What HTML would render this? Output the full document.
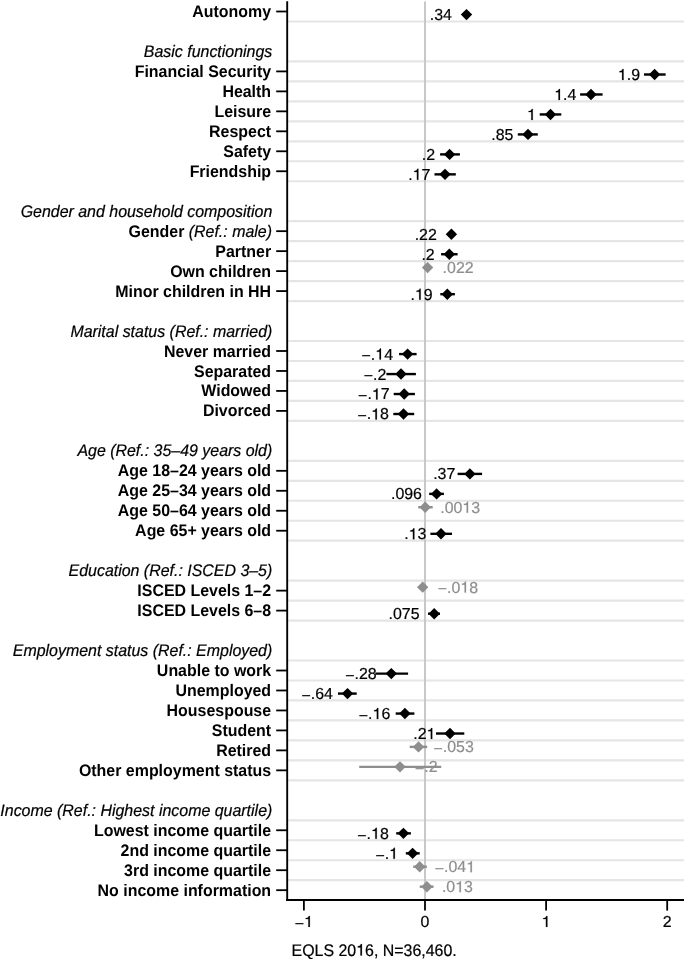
<!DOCTYPE html>
<html><head><meta charset="utf-8"><style>
html,body{margin:0;padding:0;background:#fff;}
svg{display:block;will-change:transform;}
text{text-rendering:geometricPrecision;stroke:#000;stroke-width:0.2px;font-family:"Liberation Sans",sans-serif;font-size:15.95px;}
.b{font-weight:bold;stroke-width:0;}
.i{font-style:italic;}
.h{fill-opacity:0;stroke-opacity:0;}
</style></head><body>
<svg width="685" height="959" viewBox="0 0 685 959">
<rect width="685" height="959" fill="#fff"/>

<line x1="288.2" y1="21.48" x2="684.0" y2="21.48" stroke="#e5e5e5" stroke-width="2.2"/>
<line x1="288.2" y1="61.42" x2="684.0" y2="61.42" stroke="#e5e5e5" stroke-width="2.2"/>
<line x1="288.2" y1="81.39" x2="684.0" y2="81.39" stroke="#e5e5e5" stroke-width="2.2"/>
<line x1="288.2" y1="101.36" x2="684.0" y2="101.36" stroke="#e5e5e5" stroke-width="2.2"/>
<line x1="288.2" y1="121.33" x2="684.0" y2="121.33" stroke="#e5e5e5" stroke-width="2.2"/>
<line x1="288.2" y1="141.31" x2="684.0" y2="141.31" stroke="#e5e5e5" stroke-width="2.2"/>
<line x1="288.2" y1="161.27" x2="684.0" y2="161.27" stroke="#e5e5e5" stroke-width="2.2"/>
<line x1="288.2" y1="181.25" x2="684.0" y2="181.25" stroke="#e5e5e5" stroke-width="2.2"/>
<line x1="288.2" y1="221.19" x2="684.0" y2="221.19" stroke="#e5e5e5" stroke-width="2.2"/>
<line x1="288.2" y1="241.15" x2="684.0" y2="241.15" stroke="#e5e5e5" stroke-width="2.2"/>
<line x1="288.2" y1="261.12" x2="684.0" y2="261.12" stroke="#e5e5e5" stroke-width="2.2"/>
<line x1="288.2" y1="281.10" x2="684.0" y2="281.10" stroke="#e5e5e5" stroke-width="2.2"/>
<line x1="288.2" y1="301.06" x2="684.0" y2="301.06" stroke="#e5e5e5" stroke-width="2.2"/>
<line x1="288.2" y1="341.00" x2="684.0" y2="341.00" stroke="#e5e5e5" stroke-width="2.2"/>
<line x1="288.2" y1="360.98" x2="684.0" y2="360.98" stroke="#e5e5e5" stroke-width="2.2"/>
<line x1="288.2" y1="380.94" x2="684.0" y2="380.94" stroke="#e5e5e5" stroke-width="2.2"/>
<line x1="288.2" y1="400.91" x2="684.0" y2="400.91" stroke="#e5e5e5" stroke-width="2.2"/>
<line x1="288.2" y1="420.88" x2="684.0" y2="420.88" stroke="#e5e5e5" stroke-width="2.2"/>
<line x1="288.2" y1="460.82" x2="684.0" y2="460.82" stroke="#e5e5e5" stroke-width="2.2"/>
<line x1="288.2" y1="480.79" x2="684.0" y2="480.79" stroke="#e5e5e5" stroke-width="2.2"/>
<line x1="288.2" y1="500.76" x2="684.0" y2="500.76" stroke="#e5e5e5" stroke-width="2.2"/>
<line x1="288.2" y1="520.74" x2="684.0" y2="520.74" stroke="#e5e5e5" stroke-width="2.2"/>
<line x1="288.2" y1="540.71" x2="684.0" y2="540.71" stroke="#e5e5e5" stroke-width="2.2"/>
<line x1="288.2" y1="580.64" x2="684.0" y2="580.64" stroke="#e5e5e5" stroke-width="2.2"/>
<line x1="288.2" y1="600.62" x2="684.0" y2="600.62" stroke="#e5e5e5" stroke-width="2.2"/>
<line x1="288.2" y1="620.58" x2="684.0" y2="620.58" stroke="#e5e5e5" stroke-width="2.2"/>
<line x1="288.2" y1="660.52" x2="684.0" y2="660.52" stroke="#e5e5e5" stroke-width="2.2"/>
<line x1="288.2" y1="680.50" x2="684.0" y2="680.50" stroke="#e5e5e5" stroke-width="2.2"/>
<line x1="288.2" y1="700.47" x2="684.0" y2="700.47" stroke="#e5e5e5" stroke-width="2.2"/>
<line x1="288.2" y1="720.43" x2="684.0" y2="720.43" stroke="#e5e5e5" stroke-width="2.2"/>
<line x1="288.2" y1="740.40" x2="684.0" y2="740.40" stroke="#e5e5e5" stroke-width="2.2"/>
<line x1="288.2" y1="760.38" x2="684.0" y2="760.38" stroke="#e5e5e5" stroke-width="2.2"/>
<line x1="288.2" y1="780.34" x2="684.0" y2="780.34" stroke="#e5e5e5" stroke-width="2.2"/>
<line x1="288.2" y1="820.28" x2="684.0" y2="820.28" stroke="#e5e5e5" stroke-width="2.2"/>
<line x1="288.2" y1="840.25" x2="684.0" y2="840.25" stroke="#e5e5e5" stroke-width="2.2"/>
<line x1="288.2" y1="860.23" x2="684.0" y2="860.23" stroke="#e5e5e5" stroke-width="2.2"/>
<line x1="288.2" y1="880.19" x2="684.0" y2="880.19" stroke="#e5e5e5" stroke-width="2.2"/>
<line x1="425.0" y1="1.5" x2="425.0" y2="898.9" stroke="#c6c6c6" stroke-width="1.9"/>
<line x1="276.2" y1="11.50" x2="287.2" y2="11.50" stroke="#000" stroke-width="1.8"/>
<text transform="translate(271.1 17.05) scale(1 1.05)" text-anchor="end" class="b">Autonomy</text>
<text transform="translate(272.3 56.99) scale(1 1.05)" text-anchor="end" class="i">Basic functionings</text>
<line x1="276.2" y1="71.41" x2="287.2" y2="71.41" stroke="#000" stroke-width="1.8"/>
<text transform="translate(271.1 76.96) scale(1 1.05)" text-anchor="end" class="b">Financial Security</text>
<line x1="276.2" y1="91.38" x2="287.2" y2="91.38" stroke="#000" stroke-width="1.8"/>
<text transform="translate(271.1 96.93) scale(1 1.05)" text-anchor="end" class="b">Health</text>
<line x1="276.2" y1="111.35" x2="287.2" y2="111.35" stroke="#000" stroke-width="1.8"/>
<text transform="translate(271.1 116.90) scale(1 1.05)" text-anchor="end" class="b">Leisure</text>
<line x1="276.2" y1="131.32" x2="287.2" y2="131.32" stroke="#000" stroke-width="1.8"/>
<text transform="translate(271.1 136.87) scale(1 1.05)" text-anchor="end" class="b">Respect</text>
<line x1="276.2" y1="151.29" x2="287.2" y2="151.29" stroke="#000" stroke-width="1.8"/>
<text transform="translate(271.1 156.84) scale(1 1.05)" text-anchor="end" class="b">Safety</text>
<line x1="276.2" y1="171.26" x2="287.2" y2="171.26" stroke="#000" stroke-width="1.8"/>
<text transform="translate(271.1 176.81) scale(1 1.05)" text-anchor="end" class="b">Friendship</text>
<text transform="translate(272.3 216.75) scale(1 1.05)" text-anchor="end" class="i">Gender and household composition</text>
<line x1="276.2" y1="231.17" x2="287.2" y2="231.17" stroke="#000" stroke-width="1.8"/>
<text transform="translate(272.0 236.72) scale(1 1.05)" text-anchor="end"><tspan class="b">Gender</tspan><tspan class="i"> (Ref.: male)</tspan></text>
<line x1="276.2" y1="251.14" x2="287.2" y2="251.14" stroke="#000" stroke-width="1.8"/>
<text transform="translate(271.1 256.69) scale(1 1.05)" text-anchor="end" class="b">Partner</text>
<line x1="276.2" y1="271.11" x2="287.2" y2="271.11" stroke="#000" stroke-width="1.8"/>
<text transform="translate(271.1 276.66) scale(1 1.05)" text-anchor="end" class="b">Own children</text>
<line x1="276.2" y1="291.08" x2="287.2" y2="291.08" stroke="#000" stroke-width="1.8"/>
<text transform="translate(271.1 296.63) scale(1 1.05)" text-anchor="end" class="b">Minor children in HH</text>
<text transform="translate(272.3 336.57) scale(1 1.05)" text-anchor="end" class="i">Marital status (Ref.: married)</text>
<line x1="276.2" y1="350.99" x2="287.2" y2="350.99" stroke="#000" stroke-width="1.8"/>
<text transform="translate(271.1 356.54) scale(1 1.05)" text-anchor="end" class="b">Never married</text>
<line x1="276.2" y1="370.96" x2="287.2" y2="370.96" stroke="#000" stroke-width="1.8"/>
<text transform="translate(271.1 376.51) scale(1 1.05)" text-anchor="end" class="b">Separated</text>
<line x1="276.2" y1="390.93" x2="287.2" y2="390.93" stroke="#000" stroke-width="1.8"/>
<text transform="translate(271.1 396.48) scale(1 1.05)" text-anchor="end" class="b">Widowed</text>
<line x1="276.2" y1="410.90" x2="287.2" y2="410.90" stroke="#000" stroke-width="1.8"/>
<text transform="translate(271.1 416.45) scale(1 1.05)" text-anchor="end" class="b">Divorced</text>
<text transform="translate(272.3 456.39) scale(1 1.05)" text-anchor="end" class="i">Age (Ref.: 35–49 years old)</text>
<line x1="276.2" y1="470.81" x2="287.2" y2="470.81" stroke="#000" stroke-width="1.8"/>
<text transform="translate(271.1 476.36) scale(1 1.05)" text-anchor="end" class="b">Age 18–24 years old</text>
<line x1="276.2" y1="490.78" x2="287.2" y2="490.78" stroke="#000" stroke-width="1.8"/>
<text transform="translate(271.1 496.33) scale(1 1.05)" text-anchor="end" class="b">Age 25–34 years old</text>
<line x1="276.2" y1="510.75" x2="287.2" y2="510.75" stroke="#000" stroke-width="1.8"/>
<text transform="translate(271.1 516.30) scale(1 1.05)" text-anchor="end" class="b">Age 50–64 years old</text>
<line x1="276.2" y1="530.72" x2="287.2" y2="530.72" stroke="#000" stroke-width="1.8"/>
<text transform="translate(271.1 536.27) scale(1 1.05)" text-anchor="end" class="b">Age 65+ years old</text>
<text transform="translate(272.3 576.21) scale(1 1.05)" text-anchor="end" class="i">Education (Ref.: ISCED 3–5)</text>
<line x1="276.2" y1="590.63" x2="287.2" y2="590.63" stroke="#000" stroke-width="1.8"/>
<text transform="translate(271.1 596.18) scale(1 1.05)" text-anchor="end" class="b">ISCED Levels 1–2</text>
<line x1="276.2" y1="610.60" x2="287.2" y2="610.60" stroke="#000" stroke-width="1.8"/>
<text transform="translate(271.1 616.15) scale(1 1.05)" text-anchor="end" class="b">ISCED Levels 6–8</text>
<text transform="translate(272.3 656.09) scale(1 1.05)" text-anchor="end" class="i">Employment status (Ref.: Employed)</text>
<line x1="276.2" y1="670.51" x2="287.2" y2="670.51" stroke="#000" stroke-width="1.8"/>
<text transform="translate(271.1 676.06) scale(1 1.05)" text-anchor="end" class="b">Unable to work</text>
<line x1="276.2" y1="690.48" x2="287.2" y2="690.48" stroke="#000" stroke-width="1.8"/>
<text transform="translate(271.1 696.03) scale(1 1.05)" text-anchor="end" class="b">Unemployed</text>
<line x1="276.2" y1="710.45" x2="287.2" y2="710.45" stroke="#000" stroke-width="1.8"/>
<text transform="translate(271.1 716.00) scale(1 1.05)" text-anchor="end" class="b">Housespouse</text>
<line x1="276.2" y1="730.42" x2="287.2" y2="730.42" stroke="#000" stroke-width="1.8"/>
<text transform="translate(271.1 735.97) scale(1 1.05)" text-anchor="end" class="b">Student</text>
<line x1="276.2" y1="750.39" x2="287.2" y2="750.39" stroke="#000" stroke-width="1.8"/>
<text transform="translate(271.1 755.94) scale(1 1.05)" text-anchor="end" class="b">Retired</text>
<line x1="276.2" y1="770.36" x2="287.2" y2="770.36" stroke="#000" stroke-width="1.8"/>
<text transform="translate(271.1 775.91) scale(1 1.05)" text-anchor="end" class="b">Other employment status</text>
<text transform="translate(272.3 815.85) scale(1 1.05)" text-anchor="end" class="i">Income (Ref.: Highest income quartile)</text>
<line x1="276.2" y1="830.27" x2="287.2" y2="830.27" stroke="#000" stroke-width="1.8"/>
<text transform="translate(271.1 835.82) scale(1 1.05)" text-anchor="end" class="b">Lowest income quartile</text>
<line x1="276.2" y1="850.24" x2="287.2" y2="850.24" stroke="#000" stroke-width="1.8"/>
<text transform="translate(271.1 855.79) scale(1 1.05)" text-anchor="end" class="b">2nd income quartile</text>
<line x1="276.2" y1="870.21" x2="287.2" y2="870.21" stroke="#000" stroke-width="1.8"/>
<text transform="translate(271.1 875.76) scale(1 1.05)" text-anchor="end" class="b">3rd income quartile</text>
<line x1="276.2" y1="890.18" x2="287.2" y2="890.18" stroke="#000" stroke-width="1.8"/>
<text transform="translate(271.1 895.73) scale(1 1.05)" text-anchor="end" class="b">No income information</text>
<path d="M466.5 8.90L472.2 14.60L466.5 20.30L460.8 14.60Z" fill="#000"/>
<g transform="translate(451.90 20.05) scale(1 1.0)"><text id="n1" text-anchor="end">.34</text></g>
<line x1="644.0" y1="74.51" x2="665.6" y2="74.51" stroke="#000" stroke-width="2.4"/>
<path d="M654.6 68.81L660.3000000000001 74.51L654.6 80.21L648.9 74.51Z" fill="#000"/>
<g transform="translate(640.00 79.96) scale(1 1.0)"><text id="n2" text-anchor="end"><tspan class="h">1</tspan>.9</text><path transform="translate(-22.172 0) scale(0.007788 -0.007788)" d="M736 0V1409H610Q580 1260 450 1190Q350 1140 205 1130V1000H546V0Z" fill="#000" stroke="#000" stroke-width="25.7"/></g>
<line x1="580.1" y1="94.48" x2="602.6" y2="94.48" stroke="#000" stroke-width="2.4"/>
<path d="M591.0 88.78L596.7 94.48L591.0 100.18L585.3 94.48Z" fill="#000"/>
<g transform="translate(576.40 99.93) scale(1 1.0)"><text id="n3" text-anchor="end"><tspan class="h">1</tspan>.4</text><path transform="translate(-22.172 0) scale(0.007788 -0.007788)" d="M736 0V1409H610Q580 1260 450 1190Q350 1140 205 1130V1000H546V0Z" fill="#000" stroke="#000" stroke-width="25.7"/></g>
<line x1="539.7" y1="114.45" x2="561.3" y2="114.45" stroke="#000" stroke-width="2.4"/>
<path d="M550.5 108.75L556.2 114.45L550.5 120.15L544.8 114.45Z" fill="#000"/>
<g transform="translate(535.90 119.90) scale(1 1.0)"><text id="n4" text-anchor="end"><tspan class="h">1</tspan></text><path transform="translate(-8.875 0) scale(0.007788 -0.007788)" d="M736 0V1409H610Q580 1260 450 1190Q350 1140 205 1130V1000H546V0Z" fill="#000" stroke="#000" stroke-width="25.7"/></g>
<line x1="517.8" y1="134.42" x2="537.8" y2="134.42" stroke="#000" stroke-width="2.4"/>
<path d="M528.0 128.72L533.7 134.42L528.0 140.12L522.3 134.42Z" fill="#000"/>
<g transform="translate(513.40 139.87) scale(1 1.0)"><text id="n5" text-anchor="end">.85</text></g>
<line x1="440.1" y1="154.39" x2="459.9" y2="154.39" stroke="#000" stroke-width="2.4"/>
<path d="M449.6 148.69L455.3 154.39L449.6 160.09L443.90000000000003 154.39Z" fill="#000"/>
<g transform="translate(435.00 159.84) scale(1 1.0)"><text id="n6" text-anchor="end">.2</text></g>
<line x1="434.5" y1="174.36" x2="455.8" y2="174.36" stroke="#000" stroke-width="2.4"/>
<path d="M445.0 168.66L450.7 174.36L445.0 180.06L439.3 174.36Z" fill="#000"/>
<g transform="translate(430.40 179.81) scale(1 1.0)"><text id="n7" text-anchor="end">.<tspan class="h">1</tspan>7</text><path transform="translate(-17.750 0) scale(0.007788 -0.007788)" d="M736 0V1409H610Q580 1260 450 1190Q350 1140 205 1130V1000H546V0Z" fill="#000" stroke="#000" stroke-width="25.7"/></g>
<path d="M451.4 228.57L457.09999999999997 234.27L451.4 239.97L445.7 234.27Z" fill="#000"/>
<g transform="translate(436.80 239.72) scale(1 1.0)"><text id="n8" text-anchor="end">.22</text></g>
<line x1="441.1" y1="254.24" x2="457.6" y2="254.24" stroke="#000" stroke-width="2.4"/>
<path d="M449.3 248.54L455.0 254.24L449.3 259.94L443.6 254.24Z" fill="#000"/>
<g transform="translate(434.70 259.69) scale(1 1.0)"><text id="n9" text-anchor="end">.2</text></g>
<path d="M427.6 261.91L433.3 267.61L427.6 273.31L421.90000000000003 267.61Z" fill="#8e8e8e"/>
<g transform="translate(442.60 273.06) scale(1 1.0)"><text id="n10" fill="#8e8e8e" style="stroke:#8e8e8e">.022</text></g>
<line x1="440.3" y1="294.18" x2="454.9" y2="294.18" stroke="#000" stroke-width="2.4"/>
<path d="M447.3 288.48L453.0 294.18L447.3 299.88L441.6 294.18Z" fill="#000"/>
<g transform="translate(432.70 299.63) scale(1 1.0)"><text id="n11" text-anchor="end">.<tspan class="h">1</tspan>9</text><path transform="translate(-17.750 0) scale(0.007788 -0.007788)" d="M736 0V1409H610Q580 1260 450 1190Q350 1140 205 1130V1000H546V0Z" fill="#000" stroke="#000" stroke-width="25.7"/></g>
<line x1="399.1" y1="354.09" x2="416.6" y2="354.09" stroke="#000" stroke-width="2.4"/>
<path d="M407.6 348.39L413.3 354.09L407.6 359.79L401.90000000000003 354.09Z" fill="#000"/>
<g transform="translate(393.00 359.54) scale(1 1.0)"><text id="n12" text-anchor="end"><tspan dy="1.8">−</tspan><tspan dy="-1.8">.<tspan class="h">1</tspan>4</tspan></text><path transform="translate(-17.750 0) scale(0.007788 -0.007788)" d="M736 0V1409H610Q580 1260 450 1190Q350 1140 205 1130V1000H546V0Z" fill="#000" stroke="#000" stroke-width="25.7"/></g>
<line x1="386.4" y1="374.06" x2="415.9" y2="374.06" stroke="#000" stroke-width="2.4"/>
<path d="M401.0 368.36L406.7 374.06L401.0 379.76L395.3 374.06Z" fill="#000"/>
<g transform="translate(386.40 379.51) scale(1 1.0)"><text id="n13" text-anchor="end"><tspan dy="1.8">−</tspan><tspan dy="-1.8">.2</tspan></text></g>
<line x1="393.7" y1="394.03" x2="414.9" y2="394.03" stroke="#000" stroke-width="2.4"/>
<path d="M404.2 388.33L409.9 394.03L404.2 399.73L398.5 394.03Z" fill="#000"/>
<g transform="translate(389.60 399.48) scale(1 1.0)"><text id="n14" text-anchor="end"><tspan dy="1.8">−</tspan><tspan dy="-1.8">.<tspan class="h">1</tspan>7</tspan></text><path transform="translate(-17.750 0) scale(0.007788 -0.007788)" d="M736 0V1409H610Q580 1260 450 1190Q350 1140 205 1130V1000H546V0Z" fill="#000" stroke="#000" stroke-width="25.7"/></g>
<line x1="393.3" y1="414.00" x2="414.2" y2="414.00" stroke="#000" stroke-width="2.4"/>
<path d="M403.5 408.30L409.2 414.00L403.5 419.70L397.8 414.00Z" fill="#000"/>
<g transform="translate(388.90 419.45) scale(1 1.0)"><text id="n15" text-anchor="end"><tspan dy="1.8">−</tspan><tspan dy="-1.8">.<tspan class="h">1</tspan>8</tspan></text><path transform="translate(-17.750 0) scale(0.007788 -0.007788)" d="M736 0V1409H610Q580 1260 450 1190Q350 1140 205 1130V1000H546V0Z" fill="#000" stroke="#000" stroke-width="25.7"/></g>
<line x1="457.6" y1="473.91" x2="482.1" y2="473.91" stroke="#000" stroke-width="2.4"/>
<path d="M469.9 468.21L475.59999999999997 473.91L469.9 479.61L464.2 473.91Z" fill="#000"/>
<g transform="translate(455.30 479.36) scale(1 1.0)"><text id="n16" text-anchor="end">.37</text></g>
<line x1="429.2" y1="493.88" x2="443.9" y2="493.88" stroke="#000" stroke-width="2.4"/>
<path d="M436.6 488.18L442.3 493.88L436.6 499.58L430.90000000000003 493.88Z" fill="#000"/>
<g transform="translate(422.00 499.33) scale(1 1.0)"><text id="n17" text-anchor="end">.096</text></g>
<line x1="418.2" y1="507.25" x2="432.7" y2="507.25" stroke="#8e8e8e" stroke-width="2.4"/>
<path d="M425.2 501.55L430.9 507.25L425.2 512.95L419.5 507.25Z" fill="#8e8e8e"/>
<g transform="translate(440.20 512.70) scale(1 1.0)"><text id="n18" fill="#8e8e8e" style="stroke:#8e8e8e">.00<tspan class="h">1</tspan>3</text><path transform="translate(22.156 0) scale(0.007788 -0.007788)" d="M736 0V1409H610Q580 1260 450 1190Q350 1140 205 1130V1000H546V0Z" fill="#8e8e8e" stroke="#8e8e8e" stroke-width="25.7"/></g>
<line x1="430.4" y1="533.82" x2="452.0" y2="533.82" stroke="#000" stroke-width="2.4"/>
<path d="M441.0 528.12L446.7 533.82L441.0 539.52L435.3 533.82Z" fill="#000"/>
<g transform="translate(426.40 539.27) scale(1 1.0)"><text id="n19" text-anchor="end">.<tspan class="h">1</tspan>3</text><path transform="translate(-17.750 0) scale(0.007788 -0.007788)" d="M736 0V1409H610Q580 1260 450 1190Q350 1140 205 1130V1000H546V0Z" fill="#000" stroke="#000" stroke-width="25.7"/></g>
<path d="M422.7 581.43L428.4 587.13L422.7 592.83L417.0 587.13Z" fill="#8e8e8e"/>
<g transform="translate(437.70 592.58) scale(1 1.0)"><text id="n20" fill="#8e8e8e" style="stroke:#8e8e8e"><tspan dy="1.8">−</tspan><tspan dy="-1.8">.0<tspan class="h">1</tspan>8</tspan></text><path transform="translate(22.609 0) scale(0.007788 -0.007788)" d="M736 0V1409H610Q580 1260 450 1190Q350 1140 205 1130V1000H546V0Z" fill="#8e8e8e" stroke="#8e8e8e" stroke-width="25.7"/></g>
<line x1="428.0" y1="613.70" x2="440.0" y2="613.70" stroke="#000" stroke-width="2.4"/>
<path d="M434.2 608.00L439.9 613.70L434.2 619.40L428.5 613.70Z" fill="#000"/>
<g transform="translate(419.60 619.15) scale(1 1.0)"><text id="n21" text-anchor="end">.075</text></g>
<line x1="375.3" y1="673.61" x2="408.1" y2="673.61" stroke="#000" stroke-width="2.4"/>
<path d="M391.3 667.91L397.0 673.61L391.3 679.31L385.6 673.61Z" fill="#000"/>
<g transform="translate(376.70 679.06) scale(1 1.0)"><text id="n22" text-anchor="end"><tspan dy="1.8">−</tspan><tspan dy="-1.8">.28</tspan></text></g>
<line x1="338.0" y1="693.58" x2="356.7" y2="693.58" stroke="#000" stroke-width="2.4"/>
<path d="M347.5 687.88L353.2 693.58L347.5 699.28L341.8 693.58Z" fill="#000"/>
<g transform="translate(332.90 699.03) scale(1 1.0)"><text id="n23" text-anchor="end"><tspan dy="1.8">−</tspan><tspan dy="-1.8">.64</tspan></text></g>
<line x1="395.7" y1="713.55" x2="414.4" y2="713.55" stroke="#000" stroke-width="2.4"/>
<path d="M404.9 707.85L410.59999999999997 713.55L404.9 719.25L399.2 713.55Z" fill="#000"/>
<g transform="translate(390.30 719.00) scale(1 1.0)"><text id="n24" text-anchor="end"><tspan dy="1.8">−</tspan><tspan dy="-1.8">.<tspan class="h">1</tspan>6</tspan></text><path transform="translate(-17.750 0) scale(0.007788 -0.007788)" d="M736 0V1409H610Q580 1260 450 1190Q350 1140 205 1130V1000H546V0Z" fill="#000" stroke="#000" stroke-width="25.7"/></g>
<line x1="436.0" y1="733.52" x2="464.3" y2="733.52" stroke="#000" stroke-width="2.4"/>
<path d="M450.0 727.82L455.7 733.52L450.0 739.22L444.3 733.52Z" fill="#000"/>
<g transform="translate(435.40 738.97) scale(1 1.0)"><text id="n25" text-anchor="end">.2<tspan class="h">1</tspan></text><path transform="translate(-8.875 0) scale(0.007788 -0.007788)" d="M736 0V1409H610Q580 1260 450 1190Q350 1140 205 1130V1000H546V0Z" fill="#000" stroke="#000" stroke-width="25.7"/></g>
<line x1="409.7" y1="746.89" x2="427.2" y2="746.89" stroke="#8e8e8e" stroke-width="2.4"/>
<path d="M418.5 741.19L424.2 746.89L418.5 752.59L412.8 746.89Z" fill="#8e8e8e"/>
<g transform="translate(433.50 752.34) scale(1 1.0)"><text id="n26" fill="#8e8e8e" style="stroke:#8e8e8e"><tspan dy="1.8">−</tspan><tspan dy="-1.8">.053</tspan></text></g>
<line x1="359.2" y1="766.86" x2="441.2" y2="766.86" stroke="#8e8e8e" stroke-width="2.4"/>
<path d="M400.0 761.16L405.7 766.86L400.0 772.56L394.3 766.86Z" fill="#8e8e8e"/>
<g transform="translate(415.00 772.31) scale(1 1.0)"><text id="n27" fill="#8e8e8e" style="stroke:#8e8e8e"><tspan dy="1.8">−</tspan><tspan dy="-1.8">.2</tspan></text></g>
<line x1="396.2" y1="833.37" x2="410.9" y2="833.37" stroke="#000" stroke-width="2.4"/>
<path d="M403.4 827.67L409.09999999999997 833.37L403.4 839.07L397.7 833.37Z" fill="#000"/>
<g transform="translate(388.80 838.82) scale(1 1.0)"><text id="n28" text-anchor="end"><tspan dy="1.8">−</tspan><tspan dy="-1.8">.<tspan class="h">1</tspan>8</tspan></text><path transform="translate(-17.750 0) scale(0.007788 -0.007788)" d="M736 0V1409H610Q580 1260 450 1190Q350 1140 205 1130V1000H546V0Z" fill="#000" stroke="#000" stroke-width="25.7"/></g>
<line x1="405.8" y1="853.34" x2="419.7" y2="853.34" stroke="#000" stroke-width="2.4"/>
<path d="M412.6 847.64L418.3 853.34L412.6 859.04L406.90000000000003 853.34Z" fill="#000"/>
<g transform="translate(398.00 858.79) scale(1 1.0)"><text id="n29" text-anchor="end"><tspan dy="1.8">−</tspan><tspan dy="-1.8">.<tspan class="h">1</tspan></tspan></text><path transform="translate(-8.875 0) scale(0.007788 -0.007788)" d="M736 0V1409H610Q580 1260 450 1190Q350 1140 205 1130V1000H546V0Z" fill="#000" stroke="#000" stroke-width="25.7"/></g>
<line x1="413.2" y1="866.71" x2="426.9" y2="866.71" stroke="#8e8e8e" stroke-width="2.4"/>
<path d="M419.7 861.01L425.4 866.71L419.7 872.41L414.0 866.71Z" fill="#8e8e8e"/>
<g transform="translate(434.70 872.16) scale(1 1.0)"><text id="n30" fill="#8e8e8e" style="stroke:#8e8e8e"><tspan dy="1.8">−</tspan><tspan dy="-1.8">.04<tspan class="h">1</tspan></tspan></text><path transform="translate(31.469 0) scale(0.007788 -0.007788)" d="M736 0V1409H610Q580 1260 450 1190Q350 1140 205 1130V1000H546V0Z" fill="#8e8e8e" stroke="#8e8e8e" stroke-width="25.7"/></g>
<line x1="419.7" y1="886.68" x2="433.6" y2="886.68" stroke="#8e8e8e" stroke-width="2.4"/>
<path d="M426.9 880.98L432.59999999999997 886.68L426.9 892.38L421.2 886.68Z" fill="#8e8e8e"/>
<g transform="translate(441.90 892.13) scale(1 1.0)"><text id="n31" fill="#8e8e8e" style="stroke:#8e8e8e">.0<tspan class="h">1</tspan>3</text><path transform="translate(13.297 0) scale(0.007788 -0.007788)" d="M736 0V1409H610Q580 1260 450 1190Q350 1140 205 1130V1000H546V0Z" fill="#8e8e8e" stroke="#8e8e8e" stroke-width="25.7"/></g>
<line x1="287.2" y1="1.3" x2="287.2" y2="900.9" stroke="#000" stroke-width="1.9"/>
<line x1="286.2" y1="899.9" x2="684.0" y2="899.9" stroke="#000" stroke-width="2"/>
<line x1="303.9" y1="899.9" x2="303.9" y2="910.6" stroke="#000" stroke-width="1.8"/>
<g transform="translate(303.90 926.90) scale(1 1.0)"><text id="n32" text-anchor="middle"><tspan dy="1.8">−</tspan><tspan dy="-1.8"><tspan class="h">1</tspan></tspan></text><path transform="translate(0.219 0) scale(0.007788 -0.007788)" d="M736 0V1409H610Q580 1260 450 1190Q350 1140 205 1130V1000H546V0Z" fill="#000" stroke="#000" stroke-width="25.7"/></g>
<line x1="425.0" y1="899.9" x2="425.0" y2="910.6" stroke="#000" stroke-width="1.8"/>
<g transform="translate(425.00 926.90) scale(1 1.0)"><text id="n33" text-anchor="middle">0</text></g>
<line x1="546.1" y1="899.9" x2="546.1" y2="910.6" stroke="#000" stroke-width="1.8"/>
<g transform="translate(546.10 926.90) scale(1 1.0)"><text id="n34" text-anchor="middle"><tspan class="h">1</tspan></text><path transform="translate(-4.438 0) scale(0.007788 -0.007788)" d="M736 0V1409H610Q580 1260 450 1190Q350 1140 205 1130V1000H546V0Z" fill="#000" stroke="#000" stroke-width="25.7"/></g>
<line x1="667.2" y1="899.9" x2="667.2" y2="910.6" stroke="#000" stroke-width="1.8"/>
<g transform="translate(667.20 926.90) scale(1 1.0)"><text id="n35" text-anchor="middle">2</text></g>
<g transform="translate(291.50 955.60) scale(1 1.05)"><text id="n36">EQLS 20<tspan class="h">1</tspan>6, N=36,460.</text><path transform="translate(64.688 0) scale(0.007788 -0.007788)" d="M736 0V1409H610Q580 1260 450 1190Q350 1140 205 1130V1000H546V0Z" fill="#000" stroke="#000" stroke-width="25.7"/></g>
</svg>
</body></html>
